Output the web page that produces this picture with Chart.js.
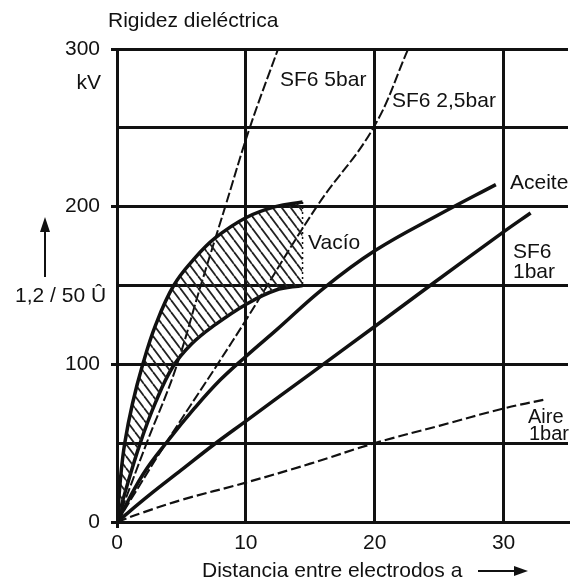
<!DOCTYPE html>
<html>
<head>
<meta charset="utf-8">
<script src="https://cdn.jsdelivr.net/npm/chart.js@4/dist/chart.umd.min.js"></script>
<style>
html,body{margin:0;padding:0;background:#fff;}
#wrap{width:573px;height:584px;position:relative;}
</style>
</head>
<body>
<div id="wrap"><canvas id="c" width="573" height="584"></canvas></div>
<script>
// ---- data ----
const xTicks = [0, 10, 20, 30];
const yTicks = [0, 50, 100, 150, 200, 250, 300];
const yLabelled = [0, 100, 200, 300];

const aireX = [0, 2, 5, 10, 15, 20, 25, 30, 33.4];
const aireY = [0, 6, 14, 25, 37, 50, 61, 72, 78];

const sf61X = [0, 2.5, 5, 7.5, 10, 15, 20, 24.3, 30, 32.1];
const sf61Y = [0, 17, 33, 49, 64, 94, 124, 150, 184, 196];

const aceiteX = [0, 2, 4, 6, 8, 10, 12.4, 16, 20, 25, 29.4];
const aceiteY = [0, 30, 52, 72, 90, 105, 122, 148, 172, 195, 214];

const sf625X = [0, 3.8, 7.8, 10, 15.5, 19.9, 22.6];
const sf625Y = [0, 50, 100, 128, 200, 250, 300];

const sf65X = [0, 2.3, 4.5, 6.5, 8.4, 10.3, 12.5];
const sf65Y = [0, 50, 96, 150, 200, 250, 300];

const vacioUpX = [0, 0.3, 0.6, 1.2, 2, 3, 4.4, 6, 7.6, 10, 12.3, 14.4];
const vacioUpY = [0, 30, 50, 75, 100, 125, 150, 167, 180, 193, 200, 203];

const vacioLowX = [0, 0.6, 1.8, 3, 4.3, 5.8, 7.6, 10, 12.3, 14.4];
const vacioLowY = [0, 18, 50, 76, 98, 113, 125, 138, 147, 150];

const vacioEdgeX = [14.4, 14.4];
const vacioEdgeY = [203, 150];

function pts(xs, ys) { return xs.map((x, i) => ({ x: x, y: ys[i] })); }

// hatch pattern for the vacuum band
const pc = document.createElement('canvas');
pc.width = 9; pc.height = 12;
const pctx = pc.getContext('2d');
pctx.strokeStyle = '#222';
pctx.lineWidth = 1.8;
[-9, 0, 9].forEach(o => {
  pctx.beginPath(); pctx.moveTo(o, 0); pctx.lineTo(o + 9, 12); pctx.stroke();
});
const hatch = pctx.createPattern(pc, 'repeat');

const FONT = '"Liberation Sans", Arial, sans-serif';

const base = {
  type: 'line', borderColor: '#111', pointRadius: 0, fill: false,
  cubicInterpolationMode: 'default', tension: 0.4
};

const labelsPlugin = {
  id: 'labels',
  afterDraw(chart) {
    const ctx = chart.ctx;
    ctx.save();
    ctx.fillStyle = '#111';
    ctx.textBaseline = 'alphabetic';
    ctx.textAlign = 'left';
    ctx.font = '21px ' + FONT;
    ctx.fillText('Rigidez dieléctrica', 108, 27);
    ctx.fillText('SF6 5bar', 280, 86);
    ctx.fillText('SF6 2,5bar', 392, 107);
    ctx.fillText('Aceite', 510, 189);
    ctx.fillText('Vacío', 308, 249);
    ctx.fillText('SF6', 513, 258);
    ctx.fillText('1bar', 513, 278);
    ctx.fillText('1,2 / 50 Û', 15, 302);
    ctx.fillText('Distancia entre electrodos a', 202, 577);
    ctx.font = '20px ' + FONT;
    ctx.fillText('Aire', 528, 423);
    ctx.fillText('1bar', 529, 440);
    ctx.textAlign = 'right';
    ctx.font = '21px ' + FONT;
    ctx.fillText('kV', 101, 89);
    // arrows
    ctx.strokeStyle = '#111';
    ctx.lineWidth = 2;
    ctx.beginPath(); ctx.moveTo(45, 230); ctx.lineTo(45, 277); ctx.stroke();
    ctx.beginPath(); ctx.moveTo(45, 217); ctx.lineTo(40, 232); ctx.lineTo(50, 232); ctx.closePath(); ctx.fill();
    ctx.beginPath(); ctx.moveTo(478, 571); ctx.lineTo(516, 571); ctx.stroke();
    ctx.beginPath(); ctx.moveTo(528, 571); ctx.lineTo(514, 566); ctx.lineTo(514, 576); ctx.closePath(); ctx.fill();
    ctx.restore();
  }
};

new Chart(document.getElementById('c'), {
  type: 'line',
  data: {
    datasets: [
      Object.assign({}, base, { label: 'Vacío sup', data: pts(vacioUpX, vacioUpY), borderWidth: 3.5,
        fill: { target: '+1' }, backgroundColor: hatch }),
      Object.assign({}, base, { label: 'Vacío inf', data: pts(vacioLowX, vacioLowY), borderWidth: 3.5 }),
      Object.assign({}, base, { label: 'Vacío borde', data: pts(vacioEdgeX, vacioEdgeY), borderWidth: 1.5,
        borderDash: [2, 3], tension: 0 }),
      Object.assign({}, base, { label: 'SF6 5bar', data: pts(sf65X, sf65Y), borderWidth: 2, borderDash: [10, 3] }),
      Object.assign({}, base, { label: 'SF6 2,5bar', data: pts(sf625X, sf625Y), borderWidth: 2, borderDash: [10, 3] }),
      Object.assign({}, base, { label: 'Aceite', data: pts(aceiteX, aceiteY), borderWidth: 3.5 }),
      Object.assign({}, base, { label: 'SF6 1bar', data: pts(sf61X, sf61Y), borderWidth: 3.5 }),
      Object.assign({}, base, { label: 'Aire 1bar', data: pts(aireX, aireY), borderWidth: 2.2, borderDash: [10, 4] })
    ]
  },
  options: {
    responsive: false,
    animation: false,
    events: [],
    layout: { padding: { top: 49, right: 5, left: 0, bottom: 0 } },
    plugins: { legend: { display: false }, tooltip: { enabled: false }, title: { display: false } },
    scales: {
      x: {
        type: 'linear', min: 0, max: 35,
        afterBuildTicks: s => { s.ticks = xTicks.map(v => ({ value: v })); },
        afterFit: s => { s.height = 62; },
        border: { display: true, color: '#111', width: 3 },
        grid: {
          color: '#111', lineWidth: 3, tickLength: 6, drawTicks: true,
          tickColor: c => (c.tick && c.tick.value === 0) ? '#111' : 'rgba(0,0,0,0)', tickWidth: 3
        },
        ticks: { color: '#111', font: { family: FONT, size: 21 }, padding: 3, maxRotation: 0 }
      },
      y: {
        type: 'linear', min: 0, max: 300,
        afterBuildTicks: s => { s.ticks = yTicks.map(v => ({ value: v })); },
        afterFit: s => { s.width = 117; },
        border: { display: true, color: '#111', width: 3 },
        grid: {
          color: '#111', lineWidth: 3, tickLength: 6, drawTicks: true,
          tickColor: c => (c.tick && yLabelled.includes(c.tick.value)) ? '#111' : 'rgba(0,0,0,0)', tickWidth: 3
        },
        ticks: {
          color: '#111', font: { family: FONT, size: 21 }, padding: 11,
          callback: v => yLabelled.includes(v) ? String(v) : ''
        }
      }
    }
  },
  plugins: [labelsPlugin]
});
</script>
</body>
</html>
